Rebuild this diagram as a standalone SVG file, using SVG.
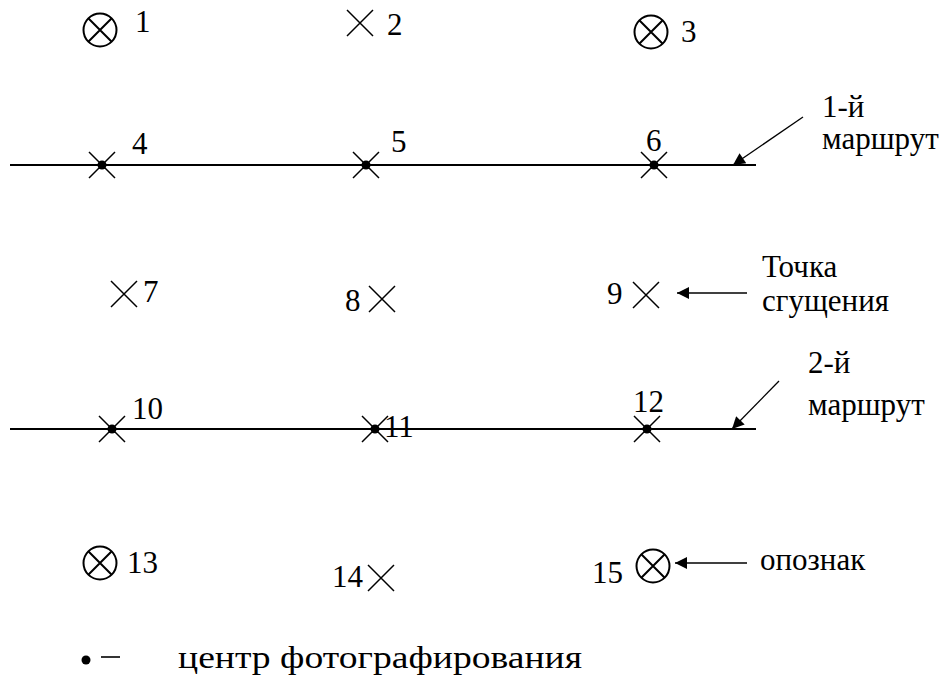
<svg xmlns="http://www.w3.org/2000/svg" width="944" height="682" viewBox="0 0 944 682">
<defs>
<style>
.t{font-family:"Liberation Serif","Times New Roman",serif;font-size:31px;fill:#000}
.x{stroke:#000;stroke-width:1.5;fill:none}
.c{stroke:#000;stroke-width:2;fill:none}
.ln{stroke:#000;stroke-width:2;fill:none}
.ar{stroke:#000;stroke-width:1.3;fill:none}
</style>
<marker id="ah" viewBox="0 0 10 10" refX="10" refY="5" markerWidth="17" markerHeight="12" markerUnits="userSpaceOnUse" orient="auto">
<path d="M0,0 L10,5 L0,10 z" fill="#000"/>
</marker>
<g id="cross"><path class="x" d="M-13,-13 L13,13 M-13,13 L13,-13"/></g>
<g id="circ"><circle class="c" r="16.5"/><path class="c" d="M-11.7,-11.7 L11.7,11.7 M-11.7,11.7 L11.7,-11.7"/></g>
</defs>
<g id="connectors">
<line class="ln" x1="10" y1="165" x2="756" y2="165"/>
<line class="ln" x1="10" y1="429" x2="756" y2="429"/>
<line class="ar" x1="803" y1="117" x2="733" y2="165" marker-end="url(#ah)"/>
<line class="ar" x1="779" y1="381" x2="732" y2="429" marker-end="url(#ah)"/>
<line class="ar" x1="747" y1="293" x2="677" y2="293" marker-end="url(#ah)"/>
<line class="ar" x1="747" y1="563" x2="675" y2="563" marker-end="url(#ah)"/>
</g>
<g class="t">
<g id="n1"><use href="#circ" x="100" y="30"/><text x="135" y="32">1</text></g>
<g id="n2"><use href="#cross" x="360" y="23"/><text x="387" y="35">2</text></g>
<g id="n3"><use href="#circ" x="651" y="32"/><text x="681" y="42">3</text></g>
<g id="n4"><use href="#cross" x="102" y="165"/><circle cx="102" cy="165" r="4.5"/><text x="132" y="154">4</text></g>
<g id="n5"><use href="#cross" x="366" y="165"/><circle cx="366" cy="165" r="4.5"/><text x="391" y="152">5</text></g>
<g id="n6"><use href="#cross" x="654" y="165"/><circle cx="654" cy="165" r="4.5"/><text x="646" y="151">6</text></g>
<g id="route1"><text x="822" y="117">1-й</text><text x="822" y="149">маршрут</text></g>
<g id="n7"><use href="#cross" x="124" y="294"/><text x="143" y="302">7</text></g>
<g id="n8"><use href="#cross" x="382" y="299"/><text x="345" y="311">8</text></g>
<g id="n9"><use href="#cross" x="646" y="295"/><text x="607" y="304">9</text></g>
<g id="cond"><text x="762" y="277">Точка</text><text x="762" y="311">сгущения</text></g>
<g id="n10"><use href="#cross" x="112" y="429"/><circle cx="112" cy="429" r="4.5"/><text x="132" y="419">10</text></g>
<g id="n11"><use href="#cross" x="375" y="429"/><circle cx="375" cy="429" r="4.5"/><text x="384" y="437">11</text></g>
<g id="n12"><use href="#cross" x="647" y="429"/><circle cx="647" cy="429" r="4.5"/><text x="633" y="412">12</text></g>
<g id="route2"><text x="808" y="373">2-й</text><text x="808" y="415">маршрут</text></g>
<g id="n13"><use href="#circ" x="100" y="563"/><text x="127" y="573">13</text></g>
<g id="n14"><use href="#cross" x="381" y="578"/><text x="332" y="587">14</text></g>
<g id="n15"><use href="#circ" x="653" y="566"/><text x="592" y="583">15</text></g>
<g id="znak"><text x="760" y="570">опознак</text></g>
<g id="legend"><circle cx="86" cy="660" r="4.5"/><line x1="101" y1="657" x2="120" y2="657" stroke="#000" stroke-width="1.6"/><text x="178" y="668" textLength="404" lengthAdjust="spacingAndGlyphs">центр фотографирования</text></g>
</g>
</svg>
